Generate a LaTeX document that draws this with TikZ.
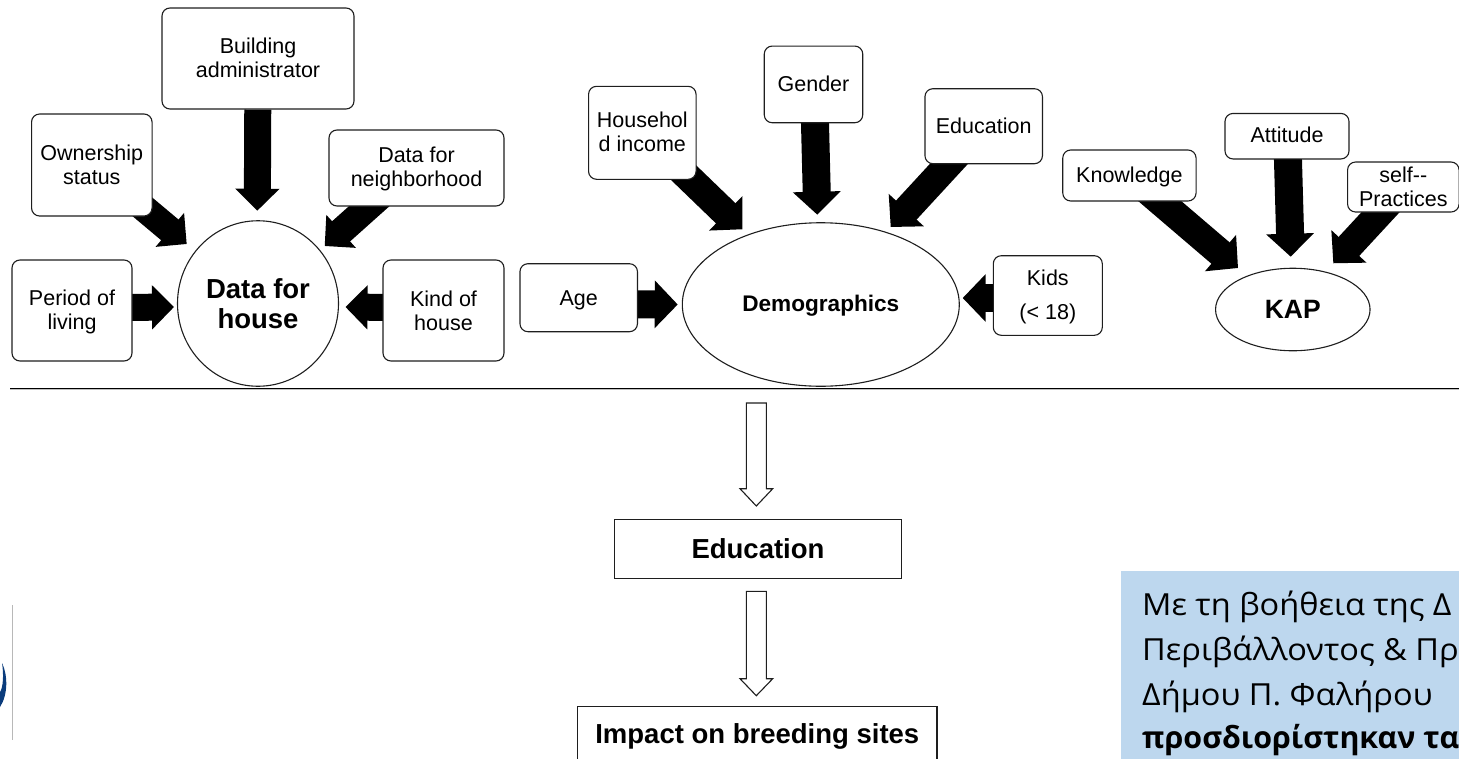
\documentclass[tikz,border=0pt]{standalone}
\usepackage{fontspec}
\setmainfont{Liberation Sans}
\newfontfamily\greekfont[FakeStretch=1.07]{Open Sans}
\newfontfamily\greekbold{Open Sans Bold}
\usetikzlibrary{arrows.meta,calc,shapes.geometric,backgrounds}
\definecolor{edge}{HTML}{1E1E1E}
\definecolor{panel}{HTML}{BDD7EE}
\definecolor{logoblue}{HTML}{0B3C7C}
\newcommand{\topstrut}[1]{\rule{0pt}{#1pt}}
\newcommand{\botstrut}[1]{\rule[-#1pt]{0pt}{#1pt}}
\tikzset{
  x=1pt,y=-1pt,
  box/.style={draw=edge,line width=1.1pt,fill=white,rounded corners=8pt,inner sep=0pt,align=center,
    font=\fontsize{21.5}{24}\selectfont},
  plainbox/.style={draw=edge,line width=1.1pt,fill=white,inner sep=0pt,align=center,
    font=\fontsize{27.5}{30}\bfseries\selectfont},
  hub/.style={draw=edge,line width=1.1pt,fill=white,inner sep=0pt,align=center,ellipse},
  fatS/.style={draw=black,line width=27pt,-{Triangle[width=43pt,length=22pt]}},
  fatL/.style={draw=black,line width=28pt,-{Triangle[width=46.5pt,length=23pt]}},
  hollow/.style={draw=edge,line width=1.1pt,fill=white,line join=miter},
  greektext/.style={anchor=base west,inner sep=0pt,font=\fontsize{30.4}{36}\greekfont\selectfont},
  base/.style={text height=#1pt,text depth=0pt},
}
\begin{document}
\begin{tikzpicture}
\useasboundingbox (0,0) rectangle (1459,758);
\clip (0,0) rectangle (1459,758);

% hubs
\node[hub,minimum width=161pt,minimum height=165.5pt,font=\fontsize{27.5}{30}\bfseries\selectfont] (house) at (258,303.5) {Data for\\house};
\node[hub,minimum width=277pt,minimum height=163.5pt,base=14.4,font=\fontsize{22.6}{26}\bfseries\selectfont] (demo) at (820.8,304.5) {Demographics};
\node[hub,minimum width=154.5pt,minimum height=82.5pt,base=17.6,font=\fontsize{26.5}{30}\bfseries\selectfont] (kap) at (1292.8,309.5) {KAP};

% boxes
\node[box,minimum width=120pt,minimum height=101pt] (period) at (72,310.5) {\topstrut{18}Period of\\living};
\node[box,minimum width=120.5pt,minimum height=102pt] (owner) at (91.8,165) {Ownership\\status};
\node[box,minimum width=192pt,minimum height=101pt] (admin) at (258,58.5) {Building\\administrator\botstrut{2}};
\node[box,minimum width=175pt,minimum height=76pt] (neigh) at (416.5,168) {\topstrut{18}Data for\\neighborhood};
\node[box,minimum width=121pt,minimum height=101pt] (kind) at (443.5,310.5) {Kind of\\house};
\node[box,minimum width=117.5pt,minimum height=68pt,base=14.6] (age) at (578.7,297.7) {Age};
\node[box,minimum width=107.5pt,minimum height=93pt] (income) at (642.3,132.8) {Househol\\d income\botstrut{3}};
\node[box,minimum width=98.5pt,minimum height=76.7pt,base=14] (gender) at (813.5,84.4) {Gender};
\node[box,minimum width=117.5pt,minimum height=75pt,base=14.2] (edu) at (983.7,126.2) {Education};
\node[box,minimum width=109pt,minimum height=79.6pt,font=\fontsize{21.5}{34}\selectfont] (kids) at (1047.8,295.5) {\topstrut{18}Kids\\(< 18)};
\node[box,minimum width=133.3pt,minimum height=51pt,base=14.4] (know) at (1129.4,175.5) {Knowledge};
\node[box,minimum width=124pt,minimum height=45.5pt,base=13] (att) at (1287,136.2) {Attitude};
\node[box,minimum width=111.5pt,minimum height=50pt] (self) at (1403.3,187) {self-{}-\\Practices};

% arrow tips (free ends)
\coordinate (tPeriod) at (174,307);
\coordinate (tOwner) at (186.7,244);
\coordinate (tAdmin) at (257.3,210.7);
\coordinate (tNeigh) at (324.7,246);
\coordinate (tKind) at (345.5,307);
\coordinate (tAge) at (677.7,304.5);
\coordinate (tIncome) at (742.3,229.3);
\coordinate (tGender) at (817.3,214.7);
\coordinate (tEdu) at (890.7,227);
\coordinate (tKids) at (962.7,298);
\coordinate (tKnow) at (1238,268);
\coordinate (tAtt) at (1290.7,256.7);
\coordinate (tSelf) at (1333.3,263.3);

\begin{pgfonlayer}{background}
\draw[fatS] ($(period)+(50,-3)$) -- (tPeriod);
\draw[fatS] ($(owner)+(9,7)$) -- (tOwner);
\draw[fatS] (admin) -- (tAdmin);
\draw[fatS] ($(neigh)+(20,-22)$) -- (tNeigh);
\draw[fatS] ($(kind)+(-50,-3)$) -- (tKind);
\draw[fatL] ($(age)+(50,6.5)$) -- (tAge);
\draw[fatL] ($(income)+(20,19.3)$) -- (tIncome);
\draw[fatL] ($(gender)+(0.5,0)$) -- (tGender);
\draw[fatL] ($(edu)+(-11,11.9)$) -- (tEdu);
\draw[fatL] ($(kids)+(-40,2.5)$) -- (tKids);
\draw[fatL] ($(know)+(10.8,8.9)$) -- (tKnow);
\draw[fatL] ($(att)+(0.3,0)$) -- (tAtt);
\draw[fatL] ($(self)+(-12.4,14)$) -- (tSelf);
\end{pgfonlayer}

% rule
\coordinate (ruleL) at (10,388.3);
\coordinate (ruleR) at (1459,388.3);
\draw[black!25,line width=1pt] ($(ruleL)+(0,1.2)$) -- ($(ruleR)+(0,1.2)$);
\draw[black,line width=1.2pt] (ruleL) -- (ruleR);

% lower boxes
\node[plainbox,minimum width=286.6pt,minimum height=59.3pt,base=19.2] (educ) at (758,548.7) {Education};
\node[plainbox,minimum width=359.3pt,minimum height=56pt,base=16.6] (impact) at (757.3,734.7) {Impact on breeding sites};

% hollow arrows
\coordinate (h1) at (756.3,403);
\coordinate (h2) at (756.3,591.3);
\draw[hollow] (h1) -- ++(10,0) -- ++(0,85.7) -- ++(6.4,0) -- ++(-16.4,17.3) -- ++(-16.3,-17.3) -- ++(6.3,0) -- ++(0,-85.7) -- cycle;
\draw[hollow] (h2) -- ++(10,0) -- ++(0,87.4) -- ++(6.4,0) -- ++(-16.4,17) -- ++(-16.3,-17) -- ++(6.3,0) -- ++(0,-87.4) -- cycle;

% panel
\node[fill=panel,inner sep=0pt,minimum width=340pt,minimum height=190pt,anchor=north west] (note) at (1121,571) {};
\node[greektext] (g1) at (1142,615) {Με τη βοήθεια της Δ};
\node[greektext] (g2) at (1142,660) {Περιβάλλοντος \& Πρ};
\node[greektext] (g3) at (1142,705) {Δήμου Π. Φαλήρου};
\node[greektext,font=\fontsize{30.4}{36}\greekbold\selectfont] (g4) at (1142,748) {προσδιορίστηκαν τα};

% logo fragment
\draw[black!28,line width=1pt] (12.5,605) -- (12.5,740);
\fill[logoblue] (2,663) .. controls (8,675) and (8,695) .. (0,707) -- (0,692) .. controls (3,688) and (4,675) .. (2,663) -- cycle;
\end{tikzpicture}
\end{document}
